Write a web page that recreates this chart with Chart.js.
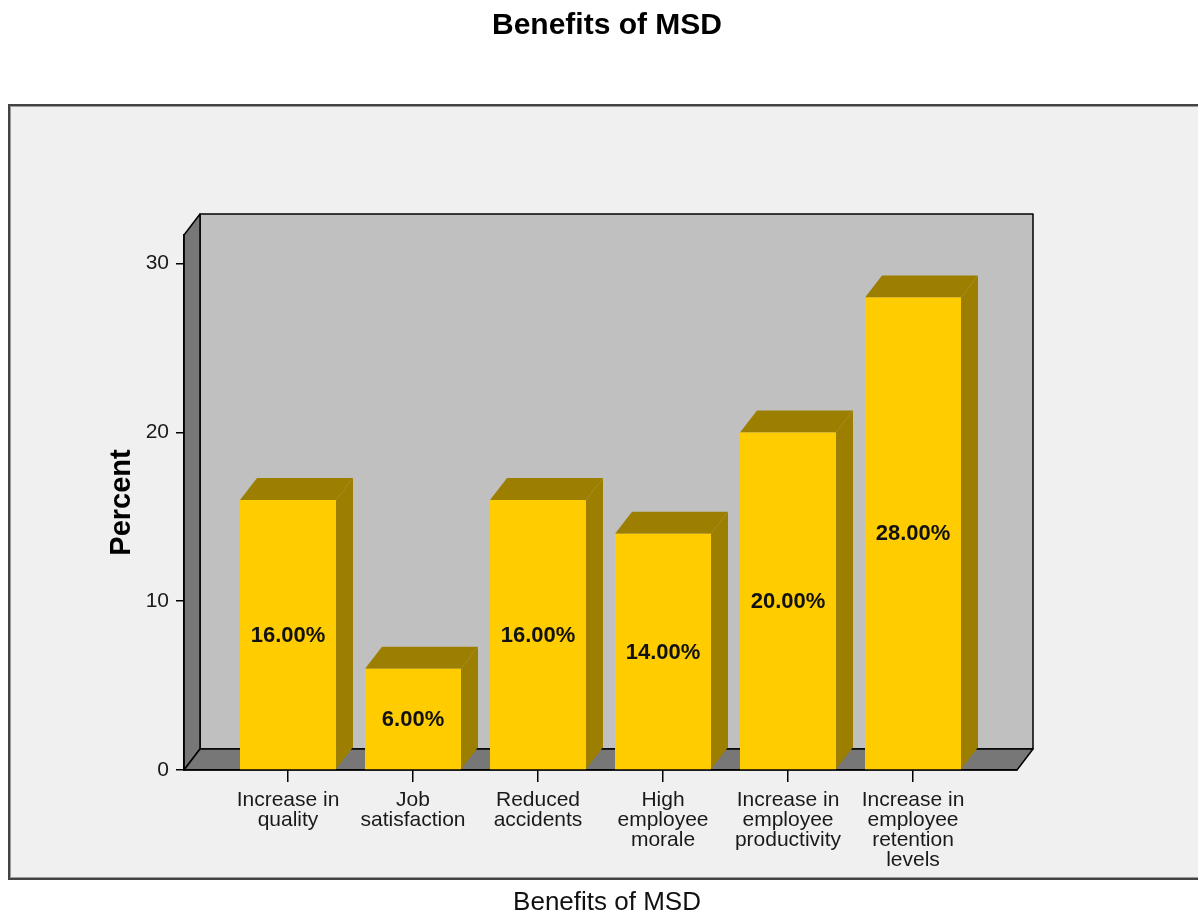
<!DOCTYPE html>
<html>
<head>
<meta charset="utf-8">
<title>Benefits of MSD</title>
<script src="https://cdn.jsdelivr.net/npm/chart.js@4.4.1/dist/chart.umd.min.js"></script>
<style>
  html, body { margin: 0; padding: 0; background: #fff; }
  #chart { display: block; }
</style>
</head>
<body>
<canvas id="chart" width="1198" height="916"></canvas>
<script>
// categories and percentages
const categories = [
    ["Increase in", "quality"],
    ["Job", "satisfaction"],
    ["Reduced", "accidents"],
    ["High", "employee", "morale"],
    ["Increase in", "employee", "productivity"],
    ["Increase in", "employee", "retention", "levels"]
];
const percents = [16, 6, 16, 14, 20, 28];
const yTicks = [0, 10, 20, 30];

const FONT = "Arial, 'Liberation Sans', sans-serif";
const WALL_DX = 16, WALL_DY = 21;   // depth of the box walls
const BAR_DX = 17, BAR_DY = 22;     // depth of each bar

// light grey panel, then the 3D box (back wall, left wall, floor)
const panelPlugin = {
    id: "panel",
    beforeDraw(chart) {
        const ctx = chart.ctx;
        const { left: L, right: R, top: T, bottom: B } = chart.chartArea;
        ctx.save();
        ctx.fillStyle = "#ffffff";
        ctx.fillRect(0, 0, chart.width, chart.height);

        ctx.fillStyle = "#f0f0f0";
        ctx.fillRect(8, 104, chart.width, 776);
        ctx.strokeStyle = "#9a9a9a";
        ctx.lineWidth = 1;
        ctx.strokeRect(10.5, 106.5, chart.width, 771);
        ctx.strokeStyle = "#444";
        ctx.lineWidth = 2;
        ctx.strokeRect(9, 105, chart.width, 774);

        ctx.lineJoin = "round";
        ctx.lineWidth = 1.5;
        ctx.strokeStyle = "#000";

        // back wall
        ctx.fillStyle = "#c0c0c0";
        ctx.fillRect(L + WALL_DX, T - WALL_DY, R - L, B - T);
        ctx.strokeRect(L + WALL_DX, T - WALL_DY, R - L, B - T);

        // left wall
        ctx.fillStyle = "#777777";
        ctx.beginPath();
        ctx.moveTo(L, B);
        ctx.lineTo(L, T);
        ctx.lineTo(L + WALL_DX, T - WALL_DY);
        ctx.lineTo(L + WALL_DX, B - WALL_DY);
        ctx.closePath();
        ctx.fill();
        ctx.stroke();

        // floor
        ctx.beginPath();
        ctx.moveTo(L, B);
        ctx.lineTo(R, B);
        ctx.lineTo(R + WALL_DX, B - WALL_DY);
        ctx.lineTo(L + WALL_DX, B - WALL_DY);
        ctx.closePath();
        ctx.fill();
        ctx.stroke();
        ctx.restore();
    }
};

// side and top faces of the bars, plus the value labels
const barDepthPlugin = {
    id: "barDepth",
    beforeDatasetsDraw(chart) {
        const ctx = chart.ctx;
        ctx.save();
        ctx.fillStyle = "#9c7f00";
        chart.getDatasetMeta(0).data.forEach(bar => {
            const xl = bar.x - bar.width / 2, xr = bar.x + bar.width / 2;
            const top = bar.y, base = bar.base;
            ctx.beginPath();
            ctx.moveTo(xr, base);
            ctx.lineTo(xr, top);
            ctx.lineTo(xr + BAR_DX, top - BAR_DY);
            ctx.lineTo(xr + BAR_DX, base - BAR_DY);
            ctx.closePath();
            ctx.fill();
            ctx.beginPath();
            ctx.moveTo(xl, top);
            ctx.lineTo(xr, top);
            ctx.lineTo(xr + BAR_DX, top - BAR_DY);
            ctx.lineTo(xl + BAR_DX, top - BAR_DY);
            ctx.closePath();
            ctx.fill();
        });
        ctx.restore();
    },
    afterDatasetsDraw(chart) {
        const ctx = chart.ctx;
        ctx.save();
        ctx.font = "bold 22px " + FONT;
        ctx.fillStyle = "#111";
        ctx.textAlign = "center";
        ctx.textBaseline = "middle";
        chart.getDatasetMeta(0).data.forEach((bar, i) => {
            ctx.fillText(percents[i].toFixed(2) + "%", bar.x, (bar.y + bar.base) / 2 + 1);
        });
        ctx.restore();
    }
};

const ctx = document.getElementById("chart").getContext("2d");

new Chart(ctx, {
    type: "bar",
    data: {
        datasets: [{
            data: percents.map((v, i) => ({ x: i, y: v })),
            backgroundColor: "#ffcc00",
            borderWidth: 0,
            barPercentage: 0.768,
            categoryPercentage: 1,
            xAxisID: "x",
            yAxisID: "y"
        }]
    },
    options: {
        responsive: false,
        animation: false,
        devicePixelRatio: 1,
        layout: { padding: { left: 16, right: 0, top: 0, bottom: 0 } },
        plugins: {
            legend: { display: false },
            tooltip: { enabled: false },
            title: {
                display: true,
                text: "Benefits of MSD",
                color: "#000",
                font: { family: FONT, size: 30, weight: "bold" },
                padding: { top: 8, bottom: 191 }
            },
            subtitle: {
                display: true,
                position: "bottom",
                text: "Benefits of MSD",
                color: "#111",
                font: { family: FONT, size: 26, weight: "normal", lineHeight: 1 },
                padding: { top: 0, bottom: 0 }
            }
        },
        scales: {
            x: {
                type: "linear",
                position: "bottom",
                min: -0.832,
                max: 5.832,
                offset: false,
                afterBuildTicks: s => { s.ticks = categories.map((_, i) => ({ value: i })); },
                afterFit: s => { s.height = 120; },
                grid: { offset: false, drawOnChartArea: false, tickLength: 12, color: "#000", lineWidth: 1.5 },
                border: { color: "#000", width: 1.5 },
                ticks: {
                    autoSkip: false,
                    maxRotation: 0,
                    padding: 8,
                    color: "#1a1a1a",
                    font: { family: FONT, size: 21, lineHeight: 0.96 },
                    callback: v => categories[v]
                }
            },
            y: {
                position: "left",
                min: 0,
                max: 31.7,
                afterBuildTicks: s => { s.ticks = yTicks.map(v => ({ value: v })); },
                afterFit: s => { s.width = 168; },
                grid: { drawOnChartArea: false, tickLength: 8, color: "#000", lineWidth: 1.5 },
                border: { color: "#000", width: 1.5 },
                ticks: {
                    padding: 7,
                    color: "#1a1a1a",
                    font: { family: FONT, size: 21 }
                },
                title: {
                    display: true,
                    text: "Percent",
                    color: "#000",
                    font: { family: FONT, size: 29, weight: "bold" },
                    padding: { top: 89, bottom: 0 }
                }
            },
            // empty right-hand margin so the box ends where the panel needs it
            yRight: {
                position: "right",
                display: true,
                afterFit: s => { s.width = 181; },
                grid: { display: false },
                border: { display: false },
                ticks: { display: false }
            }
        }
    },
    plugins: [panelPlugin, barDepthPlugin]
});
</script>
</body>
</html>
